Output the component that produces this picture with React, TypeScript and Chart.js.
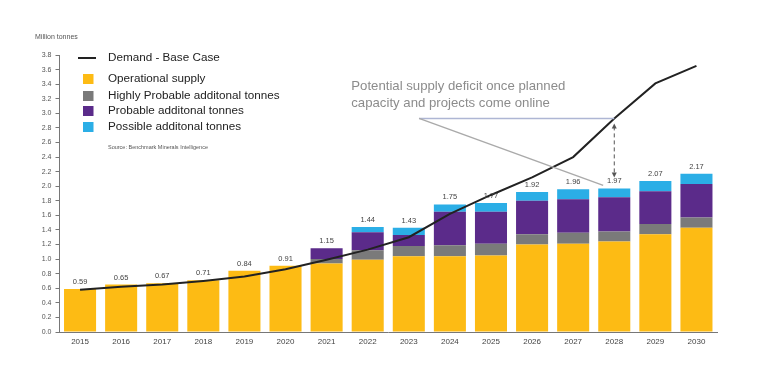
import React, { useEffect, useRef } from 'react';
import { Chart, registerables } from 'chart.js';

Chart.register(...registerables);

const years = ['2015', '2016', '2017', '2018', '2019', '2020', '2021', '2022', '2023', '2024', '2025', '2026', '2027', '2028', '2029', '2030'];
const operational = [0.59, 0.65, 0.67, 0.71, 0.84, 0.91, 0.94, 0.99, 1.04, 1.04, 1.05, 1.2, 1.21, 1.24, 1.34, 1.43];
const highlyProbable = [0, 0, 0, 0, 0, 0, 0.06, 0.13, 0.14, 0.15, 0.16, 0.14, 0.15, 0.14, 0.14, 0.14];
const probable = [0, 0, 0, 0, 0, 0, 0.15, 0.25, 0.15, 0.46, 0.44, 0.46, 0.46, 0.47, 0.45, 0.46];
const possible = [0, 0, 0, 0, 0, 0, 0, 0.07, 0.1, 0.1, 0.12, 0.12, 0.14, 0.12, 0.14, 0.14];
const totalLabels = ['0.59', '0.65', '0.67', '0.71', '0.84', '0.91', '1.15', '1.44', '1.43', '1.75', '1.77', '1.92', '1.96', '1.97', '2.07', '2.17'];
const demand = [0.58, 0.62, 0.65, 0.7, 0.76, 0.86, 0.99, 1.13, 1.3, 1.62, 1.88, 2.12, 2.4, 2.93, 3.41, 3.65];
const yTicks = [0, 0.2, 0.4, 0.6, 0.8, 1.0, 1.2, 1.4, 1.6, 1.8, 2.0, 2.2, 2.4, 2.6, 2.8, 3.0, 3.2, 3.4, 3.6, 3.8];
const deficitIndex = 13;
const annotationLines = ['Potential supply deficit once planned', 'capacity and projects come online'];
const unitLabel = 'Million tonnes';
const sourceLabel = 'Source: Benchmark Minerals Intelligence';

const COLORS = {
  operational: '#FDBB14',
  highly: '#7A7A7A',
  probable: '#5B2B8A',
  possible: '#2BAEE6',
  demand: '#222222',
};

const FONT = '"Liberation Sans", Arial, sans-serif';

const overlayPlugin = {
  id: 'overlay',
  afterDatasetsDraw(chart: any) {
    const ctx = chart.ctx as CanvasRenderingContext2D;
    const xs = chart.scales.x;
    const ys = chart.scales.y;
    const area = chart.chartArea;
    const step = xs.getPixelForValue(1) - xs.getPixelForValue(0);
    ctx.save();

    // totals above bars
    ctx.font = `7.5px ${FONT}`;
    ctx.fillStyle = '#444';
    ctx.textAlign = 'center';
    ctx.textBaseline = 'middle';
    years.forEach((_, i) => {
      const tot = operational[i] + highlyProbable[i] + probable[i] + possible[i];
      ctx.fillText(totalLabels[i], xs.getPixelForValue(i), ys.getPixelForValue(tot) - 7);
    });

    // annotation callout lines
    const di = deficitIndex;
    const totD = operational[di] + highlyProbable[di] + probable[di] + possible[di];
    const yH = ys.getPixelForValue(demand[di]);
    const xStart = xs.getPixelForValue(8) + 0.25 * step;
    const xD = xs.getPixelForValue(di);
    ctx.lineWidth = 1.5;
    ctx.strokeStyle = '#aeb6d4';
    ctx.beginPath();
    ctx.moveTo(xStart, yH);
    ctx.lineTo(xD, yH);
    ctx.stroke();
    ctx.strokeStyle = '#aaaaaa';
    ctx.beginPath();
    ctx.moveTo(xStart, yH);
    ctx.lineTo(xD - 0.27 * step, ys.getPixelForValue(totD) - 3);
    ctx.stroke();

    // dashed double arrow
    const yTop = yH + 5;
    const yBot = ys.getPixelForValue(totD) - 11;
    ctx.strokeStyle = '#555';
    ctx.fillStyle = '#555';
    ctx.lineWidth = 1;
    ctx.setLineDash([4, 3]);
    ctx.beginPath();
    ctx.moveTo(xD, yTop + 3);
    ctx.lineTo(xD, yBot - 3);
    ctx.stroke();
    ctx.setLineDash([]);
    ctx.beginPath();
    ctx.moveTo(xD, yTop);
    ctx.lineTo(xD - 2.5, yTop + 5);
    ctx.lineTo(xD + 2.5, yTop + 5);
    ctx.closePath();
    ctx.fill();
    ctx.beginPath();
    ctx.moveTo(xD, yBot);
    ctx.lineTo(xD - 2.5, yBot - 5);
    ctx.lineTo(xD + 2.5, yBot - 5);
    ctx.closePath();
    ctx.fill();

    // annotation text
    ctx.font = `13.2px ${FONT}`;
    ctx.fillStyle = '#8c8c8c';
    ctx.textAlign = 'left';
    ctx.textBaseline = 'middle';
    const tx = xs.getPixelForValue(7) - 0.4 * step;
    ctx.fillText(annotationLines[0], tx, yH - 32);
    ctx.fillText(annotationLines[1], tx, yH - 15);

    // legend
    const lx = area.left;
    const ly = area.top;
    ctx.strokeStyle = COLORS.demand;
    ctx.lineWidth = 2;
    ctx.beginPath();
    ctx.moveTo(lx + 18.5, ly + 3);
    ctx.lineTo(lx + 36.5, ly + 3);
    ctx.stroke();
    ctx.fillStyle = '#222';
    ctx.font = `11.7px ${FONT}`;
    ctx.fillText('Demand - Base Case', lx + 48.5, ly + 3);
    const items = chart.data.datasets.filter((d: any) => d.type !== 'line');
    const rows = [24, 41, 56, 72];
    items.forEach((d: any, i: number) => {
      ctx.fillStyle = d.backgroundColor;
      ctx.fillRect(lx + 23.5, ly + rows[i] - 5, 10.5, 10);
      ctx.fillStyle = '#222';
      ctx.font = `11.7px ${FONT}`;
      ctx.fillText(d.label, lx + 48.5, ly + rows[i]);
    });
    ctx.font = `5.5px ${FONT}`;
    ctx.fillStyle = '#555';
    ctx.fillText(sourceLabel, lx + 48.5, ly + 92);

    // unit label
    ctx.font = `7px ${FONT}`;
    ctx.fillStyle = '#555';
    ctx.fillText(unitLabel, area.left - 24.5, area.top - 18);

    ctx.restore();
  },
};

export default function App() {
  const ref = useRef<HTMLCanvasElement | null>(null);
  useEffect(() => {
    document.body.style.margin = '0';
    if (!ref.current) return;
    const barCommon = { type: 'bar' as const, stack: 'supply', borderWidth: 0, barPercentage: 0.78, categoryPercentage: 1, order: 2 };
    const chart = new Chart(ref.current, {
      type: 'bar',
      data: {
        labels: years,
        datasets: [
          {
            type: 'line',
            label: 'Demand - Base Case',
            data: demand,
            borderColor: COLORS.demand,
            borderWidth: 2,
            pointRadius: 0,
            tension: 0,
            fill: false,
            stack: 'demand',
            order: 0,
          } as any,
          { ...barCommon, label: 'Operational supply', data: operational, backgroundColor: COLORS.operational },
          { ...barCommon, label: 'Highly Probable additonal tonnes', data: highlyProbable, backgroundColor: COLORS.highly },
          { ...barCommon, label: 'Probable additonal tonnes', data: probable, backgroundColor: COLORS.probable },
          { ...barCommon, label: 'Possible additonal tonnes', data: possible, backgroundColor: COLORS.possible },
        ],
      },
      options: {
        animation: false,
        responsive: true,
        maintainAspectRatio: false,
        layout: { padding: { top: 55, right: 55, left: 0, bottom: 0 } },
        plugins: { legend: { display: false }, tooltip: { enabled: false } },
        scales: {
          x: {
            stacked: true,
            grid: { display: false, drawTicks: false },
            border: { display: true, color: '#777', width: 1 },
            ticks: { color: '#444', font: { size: 8, family: FONT }, padding: 5, maxRotation: 0 },
            afterFit: (s: any) => { s.height = 36; },
          },
          y: {
            stacked: true,
            min: 0,
            max: 3.8,
            grid: { display: true, drawOnChartArea: false, drawTicks: true, tickLength: 4, color: '#777' },
            border: { display: true, color: '#777', width: 1 },
            ticks: {
              color: '#555',
              font: { size: 7, family: FONT },
              padding: 4,
              callback: (v: any) => Number(v).toFixed(1),
            },
            afterBuildTicks: (axis: any) => { axis.ticks = yTicks.map((v) => ({ value: v })); },
            afterFit: (s: any) => { s.width = 59.5; },
          },
        },
      },
      plugins: [overlayPlugin],
    });
    return () => chart.destroy();
  }, []);
  return (
    <div style={{ position: 'relative', width: 772, height: 368 }}>
      <canvas ref={ref} />
    </div>
  );
}
